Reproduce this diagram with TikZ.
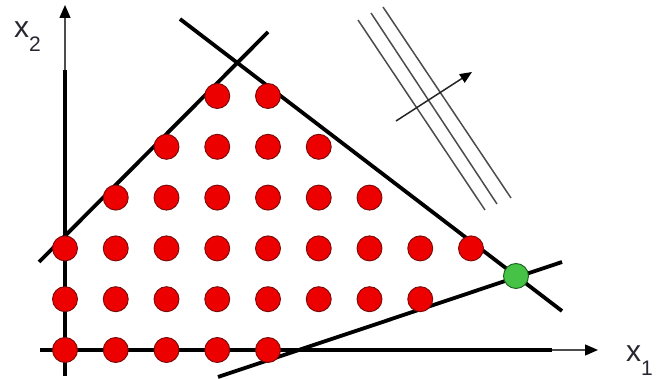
\documentclass[tikz,border=0pt]{standalone}
\usepackage{fontspec}
\setmainfont{Liberation Sans}
\usetikzlibrary{arrows.meta}
\definecolor{dotred}{RGB}{236,0,0}
\definecolor{dotredline}{RGB}{120,10,10}
\definecolor{dotgreen}{RGB}{70,195,70}
\definecolor{dotgreenline}{RGB}{25,95,25}
\definecolor{txt}{RGB}{40,40,50}
\tikzset{
  reddot/.style={circle,fill=dotred,draw=dotredline,line width=0.9pt,minimum size=25pt,inner sep=0pt},
  greendot/.style={circle,fill=dotgreen,draw=dotgreenline,line width=0.9pt,minimum size=25pt,inner sep=0pt},
  thickline/.style={line width=3.8pt,black},
  thinaxis/.style={line width=1.3pt,black!70,-{Triangle[length=13pt,width=11pt,color=black]}},
  levelline/.style={line width=1.5pt,black!70},
  lbl/.style={text=txt,font=\fontsize{30}{30}\selectfont,inner sep=0pt}
}
\begin{document}
\begin{tikzpicture}[x=1pt,y=-1pt]
\useasboundingbox (0,0) rectangle (665,379);
% axis coordinates
\coordinate (xa0) at (40,350);
\coordinate (xa1) at (552,350);
\coordinate (xa2) at (598,350);
\coordinate (ya0) at (65,376);
\coordinate (ya1) at (65,70);
\coordinate (ya2) at (65,5);
% constraint lines
\coordinate (a0) at (39,262);
\coordinate (a1) at (268,32);
\coordinate (b0) at (180,19);
\coordinate (b1) at (562,311);
\coordinate (c0) at (218,377);
\coordinate (c1) at (562,262);
% level lines
\coordinate (l1a) at (358,20);
\coordinate (l1b) at (485,210);
\coordinate (l2a) at (371,13);
\coordinate (l2b) at (497,204);
\coordinate (l3a) at (383,7);
\coordinate (l3b) at (511,198);
\coordinate (g0) at (396,121);
\coordinate (g1) at (472,72);
% axes
\draw[thinaxis] (xa1) -- (xa2);
\draw[thickline] (xa0) -- (xa1);
\draw[thinaxis] (ya1) -- (ya2);
\draw[thickline] (ya0) -- (ya1);
% constraints
\draw[thickline] (a0) -- (a1);
\draw[thickline] (b0) -- (b1);
\draw[thickline] (c0) -- (c1);
% level lines and gradient
\draw[levelline] (l1a) -- (l1b);
\draw[levelline] (l2a) -- (l2b);
\draw[levelline] (l3a) -- (l3b);
\draw[line width=1.5pt,black!85,-{Triangle[length=12pt,width=10pt,color=black]}] (g0) -- (g1);
% lattice points
\foreach \j/\from/\to in {0/0/4,1/0/7,2/0/8,3/1/6,4/2/5,5/3/4}{
  \foreach \i in {\from,...,\to}{
    \node[reddot] (d-\i-\j) at ({65+50.75*\i},{350-50.8*\j}) {};
  }
}
\node[greendot] (opt) at (516,276) {};
% labels
\node[lbl,anchor=base west] (lx2) at (14,38) {x\raisebox{-14pt}{\fontsize{21}{21}\selectfont 2}};
\node[lbl,anchor=base west] (lx1) at (626,362) {x\raisebox{-14pt}{\fontsize{21}{21}\selectfont 1}};
\end{tikzpicture}
\end{document}
